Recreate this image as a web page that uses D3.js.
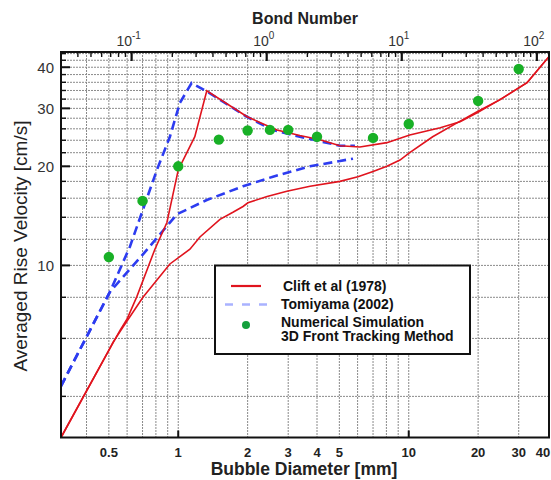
<!DOCTYPE html>
<html>
<head>
<meta charset="utf-8">
<script src="https://cdn.jsdelivr.net/npm/d3@7"></script>
<style>
  html, body { margin: 0; padding: 0; background: #fff; }
  svg { display: block; font-family: "Liberation Sans", Arial, sans-serif; }
</style>
</head>
<body>
<svg id="chart" width="551" height="480"></svg>
<script>
// Bubble diameter axis (bottom) ticks and grid
const diameterTicks = [0.5, 1, 2, 3, 4, 5, 10, 20, 30, 40];
const diameterMajor = [1, 10];
const diameterGrid = [0.4, 0.5, 0.6, 0.7, 0.8, 0.9, 1, 2, 3, 4, 5, 6, 7, 8, 9, 10, 20, 30];

// Rise velocity axis (left) ticks and grid
const velocityTicks = [10, 20, 30, 40];
const velocityGrid = [4, 6, 8, 10, 12, 14, 16, 18, 20, 22, 24, 26, 28, 30, 32, 34, 36, 38, 40, 42, 44];

// Bond number axis (top)
const bondMajor = [0.1, 1, 10, 100];
const bondExponents = ["-1", "0", "1", "2"];
const bondMinor = [0.04, 0.05, 0.06, 0.07, 0.08, 0.09,
                   0.2, 0.3, 0.4, 0.5, 0.6, 0.7, 0.8, 0.9,
                   2, 3, 4, 5, 6, 7, 8, 9,
                   20, 30, 40, 50, 60, 70, 80, 90];

// Clift et al (1978), pure water branch
const cliftPureD = [0.31, 0.495, 0.559, 0.599, 0.662, 0.792, 0.893, 1.0, 1.18, 1.33, 1.99, 2.68, 3.37, 4.12, 5.03, 6.14, 8.04, 10.1, 13.7, 16.7, 19.8, 24.9, 32.6, 40.5];
const cliftPureV = [3.0, 5.45, 6.35, 6.86, 8.05, 11.2, 13.5, 19.5, 24.6, 33.9, 28.3, 25.8, 24.8, 24.1, 23.1, 22.9, 23.6, 24.9, 26.2, 27.3, 29.1, 31.9, 35.9, 43.0];

// Clift et al (1978), contaminated water branch
const cliftContD = [0.31, 0.495, 0.521, 0.575, 0.703, 0.92, 1.124, 1.242, 1.517, 1.727, 1.91, 2.006, 2.43, 2.96, 3.73, 5.03, 6.02, 7.0, 8.04, 9.16, 10.1, 12.7, 16.2, 19.8, 24.9, 32.6, 40.5];
const cliftContV = [3.0, 5.45, 5.84, 6.49, 8.0, 10.1, 11.2, 12.2, 13.8, 14.5, 15.1, 15.5, 16.2, 16.8, 17.4, 18.0, 18.6, 19.3, 20.0, 20.9, 22.0, 24.6, 27.1, 29.3, 31.9, 35.9, 43.0];

// Tomiyama (2002), upper and lower branches
const tomiUpperD = [0.31, 0.505, 0.617, 0.808, 0.92, 1.017, 1.143, 1.328, 1.98, 2.575, 3.37, 5.03, 5.84];
const tomiUpperV = [4.3, 8.3, 11.4, 19.5, 24.6, 31.2, 35.8, 33.8, 28.3, 25.8, 24.6, 23.1, 23.1];
const tomiLowerD = [0.31, 0.505, 0.703, 0.987, 1.33, 1.91, 2.575, 3.73, 5.73];
const tomiLowerV = [4.3, 8.3, 10.8, 14.3, 15.8, 17.4, 18.6, 20.0, 21.1];

// Numerical simulation, 3D front tracking
const simD = [0.5, 0.7, 1, 1.5, 2, 2.5, 3, 4, 7, 10, 20, 30];
const simV = [10.6, 15.7, 20.0, 24.1, 25.7, 25.8, 25.8, 24.6, 24.4, 26.9, 31.6, 39.5];

const legendLabels = ["Clift et al (1978)", "Tomiyama (2002)", "Numerical Simulation", "3D Front Tracking Method"];

const RED = "#e0141e", BLUE = "#2d3cf0", GREEN = "#18b026";

const svg = d3.select("#chart");
const W = 551;
const L = 61, R = 549, T = 52, B = 437.5;

const x = d3.scaleLog().domain([0.31, 40.6]).range([L, R]);
const y = d3.scaleLog().domain([3, 44.5]).range([B, T]);
const bond = d3.scaleLog().domain([0.03, 123]).range([L, R]);

svg.append("defs").append("clipPath").attr("id", "plot-clip")
  .append("rect").attr("x", L).attr("y", T).attr("width", R - L).attr("height", B - T);

// grid
const grid = svg.append("g").attr("stroke", "#8a8a8a").attr("stroke-width", 1).attr("stroke-dasharray", "2,1");
grid.selectAll("line.v").data(diameterGrid).join("line")
  .attr("x1", d => x(d)).attr("x2", d => x(d)).attr("y1", T).attr("y2", B);
grid.selectAll("line.h").data(velocityGrid).join("line")
  .attr("x1", L).attr("x2", R).attr("y1", d => y(d)).attr("y2", d => y(d));

// curves
const plot = svg.append("g").attr("clip-path", "url(#plot-clip)");
const line = d3.line().x(d => x(d[0])).y(d => y(d[1]));
const zip = (a, b) => a.map((v, i) => [v, b[i]]);

plot.append("path").datum(zip(tomiUpperD, tomiUpperV)).attr("d", line)
  .attr("fill", "none").attr("stroke", BLUE).attr("stroke-width", 2.6).attr("stroke-dasharray", "9,5");
plot.append("path").datum(zip(tomiLowerD, tomiLowerV)).attr("d", line)
  .attr("fill", "none").attr("stroke", BLUE).attr("stroke-width", 2.6).attr("stroke-dasharray", "9,5");
plot.append("path").datum(zip(cliftContD, cliftContV)).attr("d", line)
  .attr("fill", "none").attr("stroke", RED).attr("stroke-width", 1.6);
plot.append("path").datum(zip(cliftPureD, cliftPureV)).attr("d", line)
  .attr("fill", "none").attr("stroke", RED).attr("stroke-width", 1.6);

plot.selectAll("circle.sim").data(zip(simD, simV)).join("circle")
  .attr("cx", d => x(d[0])).attr("cy", d => y(d[1])).attr("r", 5.2).attr("fill", GREEN);

// frame
svg.append("rect").attr("x", L).attr("y", T).attr("width", R - L).attr("height", B - T)
  .attr("fill", "none").attr("stroke", "#111").attr("stroke-width", 2);

// left ticks (inward)
svg.append("g").selectAll("line").data(velocityGrid).join("line")
  .attr("x1", L).attr("x2", d => L + (velocityTicks.includes(d) ? 9 : 5))
  .attr("y1", d => y(d)).attr("y2", d => y(d))
  .attr("stroke", "#111").attr("stroke-width", d => velocityTicks.includes(d) ? 2 : 1.4);
svg.append("g").selectAll("text").data(velocityTicks).join("text")
  .attr("x", 54).attr("y", d => y(d)).attr("dy", "0.36em")
  .attr("text-anchor", "end").attr("font-size", 15).attr("fill", "#333")
  .text(d => d);

// bottom ticks and labels
svg.append("g").selectAll("line").data(diameterMajor).join("line")
  .attr("x1", d => x(d)).attr("x2", d => x(d)).attr("y1", B).attr("y2", B - 7)
  .attr("stroke", "#111").attr("stroke-width", 2);
svg.append("g").selectAll("text").data(diameterTicks).join("text")
  .attr("x", d => Math.min(x(d), W - 8)).attr("y", 457)
  .attr("text-anchor", "middle").attr("font-size", 13).attr("font-weight", "bold").attr("fill", "#222")
  .text(d => d);

// top (Bond number) ticks and labels
svg.append("g").selectAll("line").data(bondMinor).join("line")
  .attr("x1", d => bond(d)).attr("x2", d => bond(d)).attr("y1", T).attr("y2", T + 5)
  .attr("stroke", "#111").attr("stroke-width", 1.4);
svg.append("g").selectAll("line").data(bondMajor).join("line")
  .attr("x1", d => bond(d)).attr("x2", d => bond(d)).attr("y1", T).attr("y2", T + 9)
  .attr("stroke", "#111").attr("stroke-width", 2.2);
const bl = svg.append("g").selectAll("text").data(bondMajor).join("text")
  .attr("x", d => bond(d) - 3).attr("y", 46)
  .attr("text-anchor", "middle").attr("font-size", 14).attr("fill", "#333");
bl.append("tspan").text("10");
bl.append("tspan").attr("dy", -7).attr("font-size", 10).text((d, i) => bondExponents[i]);

// axis titles
svg.append("text").attr("x", 305).attr("y", 24).attr("text-anchor", "middle")
  .attr("font-size", 16).attr("font-weight", "bold").attr("fill", "#222").text("Bond Number");
svg.append("text").attr("x", 304).attr("y", 475).attr("text-anchor", "middle")
  .attr("font-size", 17.5).attr("font-weight", "bold").attr("fill", "#222").text("Bubble Diameter [mm]");
svg.append("text").attr("transform", "translate(27,246) rotate(-90)").attr("text-anchor", "middle")
  .attr("font-size", 19).attr("fill", "#222").text("Averaged Rise Velocity [cm/s]");

// legend
const lg = svg.append("g");
lg.append("rect").attr("x", 215).attr("y", 265.5).attr("width", 255).attr("height", 88.5)
  .attr("fill", "#fff").attr("stroke", "#111").attr("stroke-width", 2);
lg.append("line").attr("x1", 231).attr("x2", 261).attr("y1", 286).attr("y2", 286)
  .attr("stroke", RED).attr("stroke-width", 2.2);
lg.append("line").attr("x1", 225).attr("x2", 273).attr("y1", 304.5).attr("y2", 304.5)
  .attr("stroke", "#a9b2ff").attr("stroke-width", 2.6).attr("stroke-dasharray", "8,9");
lg.append("circle").attr("cx", 246).attr("cy", 325).attr("r", 4).attr("fill", "#14a03c");
const ly = [290.5, 309, 326.5, 341];
const lx = [283, 281, 281, 281];
lg.selectAll("text").data(legendLabels).join("text")
  .attr("x", (d, i) => lx[i]).attr("y", (d, i) => ly[i])
  .attr("font-size", 14).attr("font-weight", "bold").attr("fill", "#111")
  .text(d => d);
</script>
</body>
</html>
